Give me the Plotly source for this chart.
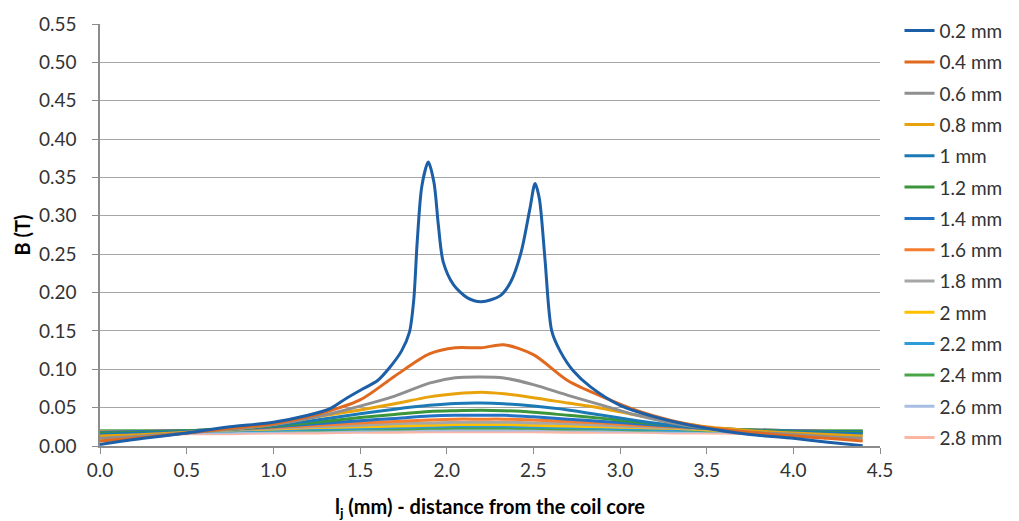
import plotly.graph_objects as go

# Field profile across the gap for several gap distances
x_02 = [0, 0.25, 0.5, 0.75, 1.0, 1.2, 1.33, 1.42, 1.52, 1.6, 1.67, 1.74, 1.785,
        1.81, 1.83, 1.857, 1.894, 1.927, 1.952, 1.98, 2.04, 2.12, 2.2, 2.31, 2.37,
        2.43, 2.48, 2.51, 2.535, 2.567, 2.606, 2.654, 2.73, 2.83, 3.0, 3.2, 3.5,
        3.75, 4.0, 4.2, 4.4]
b_02 = [0.002, 0.010, 0.017, 0.025, 0.031, 0.040, 0.049, 0.062, 0.075, 0.085,
        0.102, 0.124, 0.148, 0.190, 0.266, 0.339, 0.370, 0.343, 0.288, 0.240,
        0.210, 0.193, 0.188, 0.196, 0.214, 0.253, 0.309, 0.342, 0.322, 0.244,
        0.150, 0.124, 0.098, 0.077, 0.053, 0.038, 0.023, 0.015, 0.010, 0.005,
        0.0005]

x_common = [0, 0.25, 0.5, 0.75, 1.0, 1.25, 1.5, 1.7, 1.9, 2.05, 2.2, 2.33, 2.5,
            2.7, 2.9, 3.1, 3.3, 3.5, 3.75, 4.0, 4.2, 4.4]

b_04 = [0.0065, 0.011, 0.017, 0.023, 0.029, 0.041, 0.060, 0.091, 0.120, 0.128,
        0.128, 0.132, 0.119, 0.085, 0.064, 0.046, 0.033, 0.024, 0.018, 0.013,
        0.010, 0.0065]
b_06 = [0.010, 0.013, 0.017, 0.022, 0.028, 0.038, 0.052, 0.065, 0.082, 0.089,
        0.090, 0.0887, 0.080, 0.066, 0.053, 0.040, 0.030, 0.023, 0.018, 0.015,
        0.012, 0.010]
b_08 = [0.013, 0.015, 0.018, 0.022, 0.028, 0.038, 0.047, 0.055, 0.064, 0.068,
        0.070, 0.068, 0.063, 0.056, 0.049, 0.040, 0.032, 0.025, 0.020, 0.017,
        0.015, 0.013]
b_10 = [0.015, 0.017, 0.019, 0.022, 0.027, 0.034, 0.042, 0.048, 0.053, 0.0555,
        0.056, 0.055, 0.052, 0.047, 0.040, 0.033, 0.027, 0.023, 0.020, 0.018,
        0.017, 0.016]
b_12 = [0.017, 0.018, 0.020, 0.022, 0.026, 0.031, 0.037, 0.041, 0.045, 0.046,
        0.0465, 0.046, 0.044, 0.040, 0.036, 0.031, 0.027, 0.023, 0.021, 0.019,
        0.018, 0.018]
b_14 = [0.018, 0.019, 0.020, 0.022, 0.025, 0.029, 0.033, 0.036, 0.039, 0.040,
        0.040, 0.040, 0.038, 0.035, 0.032, 0.029, 0.026, 0.023, 0.021, 0.020,
        0.019, 0.019]
b_16 = [0.018, 0.019, 0.020, 0.022, 0.024, 0.027, 0.030, 0.032, 0.034, 0.035,
        0.035, 0.035, 0.034, 0.032, 0.030, 0.027, 0.025, 0.023, 0.021, 0.020,
        0.019, 0.019]
b_18 = [0.018, 0.019, 0.020, 0.021, 0.023, 0.025, 0.027, 0.029, 0.030, 0.031,
        0.031, 0.031, 0.030, 0.029, 0.027, 0.025, 0.024, 0.022, 0.021, 0.020,
        0.019, 0.019]
b_20 = [0.019, 0.019, 0.020, 0.021, 0.022, 0.024, 0.025, 0.026, 0.027, 0.028,
        0.028, 0.028, 0.027, 0.026, 0.025, 0.024, 0.023, 0.021, 0.020, 0.020,
        0.019, 0.019]
b_22 = [0.019, 0.019, 0.020, 0.020, 0.021, 0.022, 0.023, 0.024, 0.025, 0.026,
        0.026, 0.026, 0.025, 0.024, 0.023, 0.022, 0.021, 0.021, 0.020, 0.020,
        0.019, 0.019]
b_24 = [0.020, 0.020, 0.020, 0.020, 0.021, 0.021, 0.022, 0.022, 0.023, 0.0235,
        0.0235, 0.0235, 0.023, 0.022, 0.022, 0.021, 0.021, 0.020, 0.020, 0.020,
        0.020, 0.020]
b_26 = [0.016, 0.017, 0.017, 0.018, 0.019, 0.020, 0.020, 0.021, 0.021, 0.021,
        0.021, 0.021, 0.021, 0.021, 0.020, 0.020, 0.019, 0.019, 0.018, 0.017,
        0.017, 0.016]
b_28 = [0.014, 0.015, 0.016, 0.016, 0.017, 0.017, 0.018, 0.018, 0.0185, 0.0185,
        0.0185, 0.0185, 0.0185, 0.018, 0.018, 0.018, 0.017, 0.017, 0.016, 0.016,
        0.015, 0.015]

series_names = ["0.2 mm", "0.4 mm", "0.6 mm", "0.8 mm", "1 mm", "1.2 mm",
                "1.4 mm", "1.6 mm", "1.8 mm", "2 mm", "2.2 mm", "2.4 mm",
                "2.6 mm", "2.8 mm"]
series_values = [b_02, b_04, b_06, b_08, b_10, b_12, b_14, b_16, b_18, b_20,
                 b_22, b_24, b_26, b_28]
series_x = [x_02] + [x_common] * 13
colors = ["#1c5fa6", "#e0691f", "#8f8f8f", "#e8a20c", "#1b7ab5", "#3b953a",
          "#2372c6", "#f47d30", "#a6a6a6", "#ffc000", "#2f9bd9", "#4aa546",
          "#a9bde3", "#fbb6a3"]

x_ticks = [0.0, 0.5, 1.0, 1.5, 2.0, 2.5, 3.0, 3.5, 4.0, 4.5]
y_ticks = [0.00, 0.05, 0.10, 0.15, 0.20, 0.25, 0.30, 0.35, 0.40, 0.45, 0.50, 0.55]

FONT = "Lato, Carlito, Calibri, sans-serif"
TXT = "#333333"

fig = go.Figure()
# draw far-distance curves first so the strongest field stays on top
for i in reversed(range(len(series_names))):
    fig.add_trace(go.Scatter(
        x=series_x[i], y=series_values[i], name=series_names[i],
        mode="lines", line=dict(color=colors[i], width=3, shape="spline",
                                smoothing=0.8),
        legendgroup=series_names[i], legendrank=i + 1,
    ))

fig.update_layout(
    width=1019, height=521,
    margin=dict(l=100, r=139, t=20, b=75),
    paper_bgcolor="white", plot_bgcolor="white",
    font=dict(family=FONT, size=19, color=TXT),
    showlegend=True,
    legend=dict(x=1.025, y=1.029, xanchor="left", yanchor="top",
                font=dict(family=FONT, size=19, color=TXT),
                tracegroupgap=3.6, bgcolor="rgba(0,0,0,0)",
                traceorder="grouped", maxheight=520),
    xaxis=dict(range=[0, 4.5], tickvals=x_ticks, tickformat=".1f",
               showgrid=False, zeroline=False, automargin=False,
               showline=True, linecolor="#8c8c8c", linewidth=1.5,
               ticks="outside", ticklen=6, tickcolor="#8c8c8c",
               tickfont=dict(size=19, color=TXT),
               title=dict(text="<b>l<sub>j</sub> (mm) - distance from the coil core</b>",
                          font=dict(size=20, color="#000000"), standoff=21)),
    yaxis=dict(range=[0, 0.55], tickvals=y_ticks, tickformat=".2f",
               showgrid=True, gridcolor="#a6a6a6", gridwidth=1.2,
               zeroline=False, automargin=False,
               showline=True, linecolor="#8c8c8c", linewidth=1.5,
               ticks="outside", ticklen=6, tickcolor="#8c8c8c",
               ticklabelstandoff=12,
               tickfont=dict(size=19, color=TXT),
               title=dict(text="<b>B (T)</b>",
                          font=dict(size=20, color="#000000"), standoff=3)),
)

fig.write_html("out.html")
